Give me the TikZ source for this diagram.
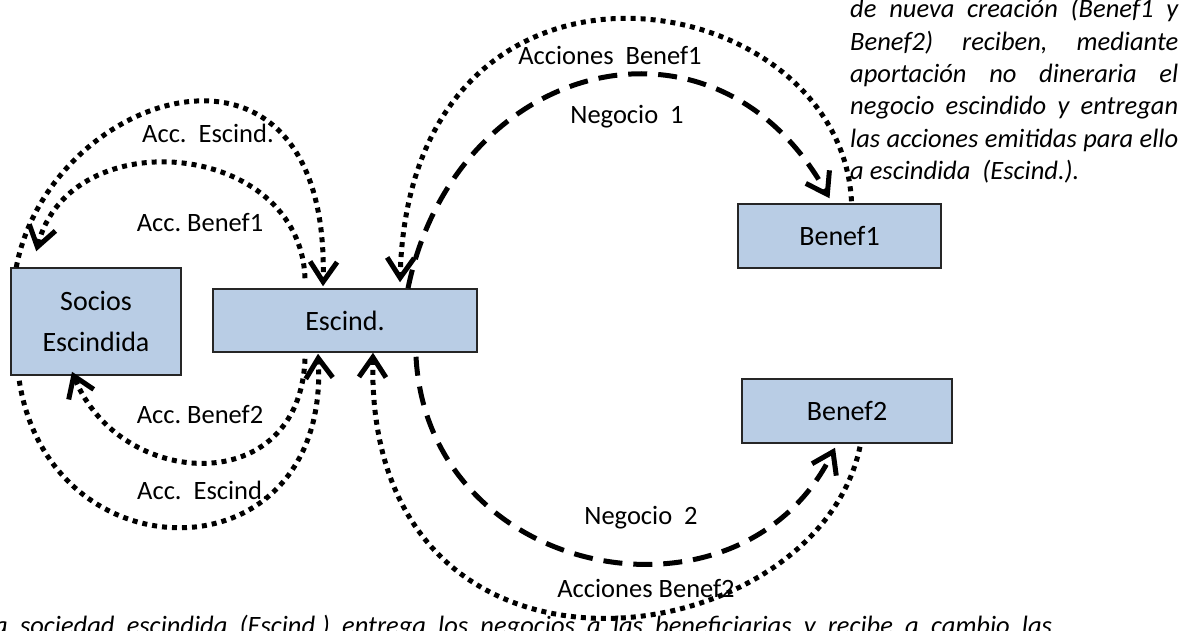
\documentclass[tikz,border=0pt]{standalone}
\usepackage{fontspec}
\setmainfont{Carlito}
\usetikzlibrary{arrows.meta}
\definecolor{boxblue}{HTML}{B9CDE5}
\begin{document}
\frenchspacing
\begin{tikzpicture}[x=1pt,y=-1pt,
  box/.style={draw=black!85, line width=1.5pt, fill=boxblue, inner sep=0pt, font=\fontsize{28}{33}\selectfont},
  lbl/.style={inner sep=0pt, font=\fontsize{26.5}{31}\selectfont},
  tip/.style={-{Straight Barb[length=20pt,width=27pt,line width=5pt]}},
  dotline/.style={tip, line width=5pt, dash pattern=on 5pt off 5pt},
  dashline/.style={tip, line width=5pt, dash pattern=on 19pt off 11pt},
  itext/.style={inner sep=0pt, font=\fontsize{26.5}{32.3}\selectfont\itshape}
]
\useasboundingbox (0,0) rectangle (1198,631);
\clip (0,0) rectangle (1198,631);

% boxes
\node[box, minimum width=170pt, minimum height=107pt, align=center, font=\fontsize{28}{41}\selectfont] (soc) at (96,321.5) {Socios\\Escindida};
\node[box, minimum width=264pt, minimum height=63pt] (esc) at (345,320.5) {Escind.};
\node[box, minimum width=203pt, minimum height=64pt] (ben1) at (839.5,236) {Benef1};
\node[box, minimum width=210pt, minimum height=64pt] (ben2) at (847,411) {Benef2};

% connectors
\draw[dotline] ([xshift=6pt]soc.north west) .. controls (50,90) and (330,0) .. ([xshift=-22pt,yshift=2pt]esc.north);
\draw[dotline] ([xshift=-40pt,yshift=10pt]esc.north) .. controls (300,140) and (70,120) .. ([xshift=26pt,yshift=16pt]soc.north west);
\draw[dotline] ([xshift=-40pt,yshift=-6pt]esc.south) .. controls (300,500) and (120,490) .. ([xshift=-24pt,yshift=4pt]soc.south);
\draw[dotline] ([xshift=9pt,yshift=-5pt]soc.south west) .. controls (50,580) and (330,580) .. ([xshift=-27pt,yshift=-1pt]esc.south);
\draw[dotline] ([xshift=12pt,yshift=2pt]ben1.north) .. controls (840,-20) and (410,-90) .. ([xshift=55pt,yshift=6pt]esc.north);
\draw[dashline] ([xshift=63pt]esc.north) .. controls (455,60) and (715,-8) .. ([xshift=-10pt,yshift=5pt]ben1.north);
\draw[dashline] ([xshift=71pt,yshift=-4pt]esc.south) .. controls (428,580) and (740,640) .. ([xshift=-12pt,yshift=-4pt]ben2.south);
\draw[dotline] ([xshift=13pt,yshift=-3pt]ben2.south) .. controls (815,660) and (365,720) .. ([xshift=28pt]esc.south);

% labels
\node[lbl] (l1) at (208,133) {Acc.\ \ Escind.};
\node[lbl] (l2) at (200,223) {Acc.\ Benef1};
\node[lbl] (l3) at (200,415) {Acc.\ Benef2};
\node[lbl] (l4) at (203,490) {Acc.\ \ Escind.};
\node[lbl] (l5) at (610,55) {Acciones\ \ Benef1};
\node[lbl] (l6) at (627,117) {Negocio\ \ 1};
\node[lbl] (l7) at (641,518) {Negocio\ \ 2};
\node[lbl] (l8) at (646,588) {Acciones Benef2};

% text
\node[itext, anchor=base west] (desc) at (850,18) {\parbox[t]{328pt}{%
\makebox[328pt][s]{de nueva creación (Benef1 y}\\
\makebox[328pt][s]{Benef2) reciben, mediante}\\
\makebox[328pt][s]{aportación no dineraria el}\\
\makebox[328pt][s]{negocio escindido y entregan}\\
\makebox[328pt][s]{las acciones emitidas para ello}\\
a escindida\ \ (Escind.).}};
\node[itext, anchor=base west] (foot) at (-6,634) {\makebox[1058pt][s]{a sociedad escindida (Escind.) entrega los negocios a las beneficiarias y recibe a cambio las}};
\end{tikzpicture}
\end{document}
